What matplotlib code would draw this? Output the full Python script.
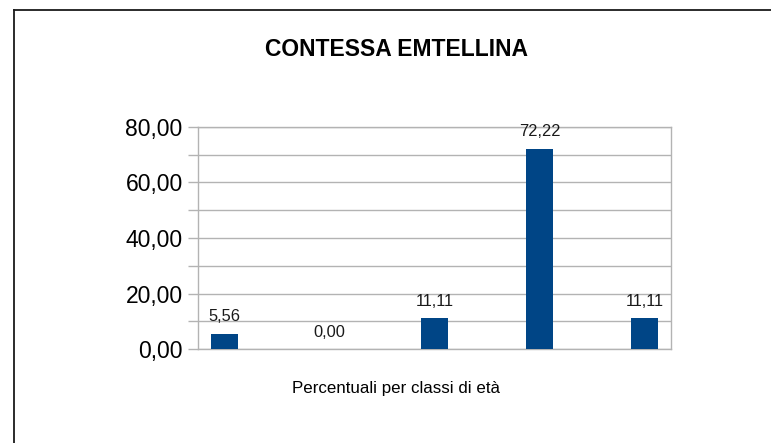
import matplotlib
matplotlib.use("Agg")
import matplotlib.pyplot as plt
from matplotlib.lines import Line2D
from matplotlib.ticker import MultipleLocator, FuncFormatter

plt.rcParams['font.family'] = ['Liberation Sans', 'DejaVu Sans']

title = "CONTESSA EMTELLINA"
xlabel = "Percentuali per classi di età"
categories = [0, 1, 2, 3, 4]
values = [5.56, 0.00, 11.11, 72.22, 11.11]
yticks = [0, 20, 40, 60, 80]

bar_color = "#004586"
grid_color = "#b3b3b3"

def fmt(v):
    return f"{v:.2f}".replace(".", ",")

fig = plt.figure(figsize=(7.71, 4.43), dpi=100)
ax = fig.add_axes([198/771, 94/443, 473/771, 222/443])

ax.bar(categories, values, width=0.26, color=bar_color, zorder=3)
ax.set_xlim(-0.25, 4.25)
ax.set_ylim(0, 80)
ax.set_yticks(yticks)
ax.yaxis.set_major_formatter(FuncFormatter(lambda v, p: fmt(v)))
ax.yaxis.set_minor_locator(MultipleLocator(10))
ax.set_xticks([])
ax.grid(axis='y', which='both', color=grid_color, linewidth=1.0, zorder=0)
ax.tick_params(axis='y', which='both', length=7, color=grid_color, width=1.0,
               labelsize=16.5, pad=4, labelcolor='black')
for s in ax.spines.values():
    s.set_color(grid_color)
    s.set_linewidth(1.0)

for x, v in zip(categories, values):
    ax.annotate(fmt(v), (x, v), xytext=(0, 12.2), textcoords='offset points',
                ha='center', va='center', fontsize=11.8, color='#1a1a1a')

fig.text(397/771, 1 - 50/443, title, ha='center', va='center',
         fontsize=16.5, fontweight='bold')
fig.text(396/771, 1 - 388/443, xlabel, ha='center', va='center', fontsize=12.2)

fig.add_artist(Line2D([14/771, 14/771], [0, 1 - 10/443], transform=fig.transFigure,
                      color='#1a1a1a', linewidth=1.3))
fig.add_artist(Line2D([14/771, 1], [1 - 10/443, 1 - 10/443], transform=fig.transFigure,
                      color='#1a1a1a', linewidth=1.3))

fig.savefig("out.png", dpi=100)
